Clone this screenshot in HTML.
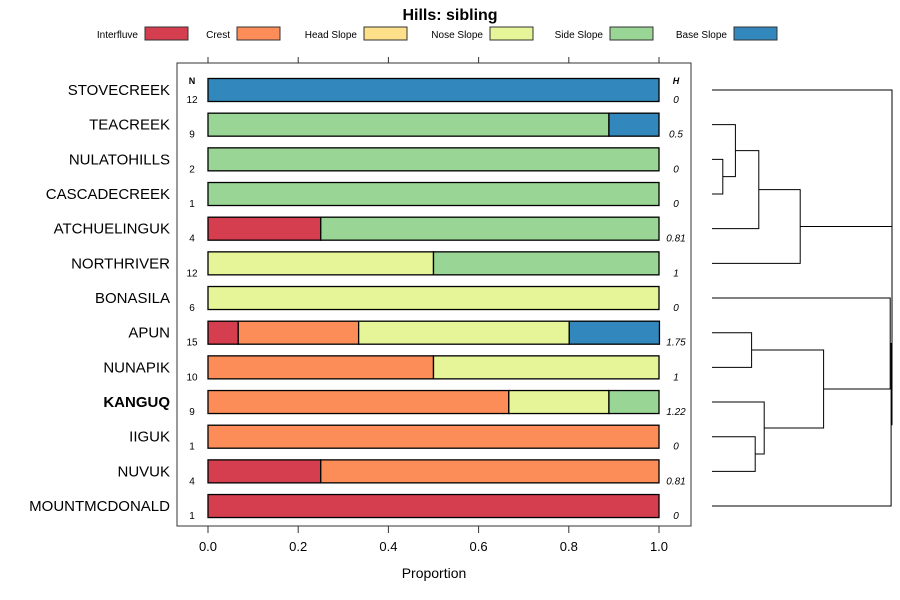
<!DOCTYPE html>
<html><head><meta charset="utf-8"><style>
html,body{margin:0;padding:0;background:#fff;}
svg{display:block;font-family:"Liberation Sans",sans-serif;}
</style></head><body>
<svg id="chart" width="900" height="600">
<text x="450" y="20" text-anchor="middle" font-size="16" font-weight="bold">Hills: sibling</text>
<g id="legend"></g>
<rect x="177" y="63" width="514" height="463" fill="none" stroke="#333" stroke-width="1"/>
<g id="axes"></g>
<g id="bars"></g>
<g id="dendro"></g>
<text x="434" y="578" text-anchor="middle" font-size="14">Proportion</text>
<text x="192" y="84" text-anchor="middle" font-size="9" font-weight="bold">N</text>
<text x="676" y="84" text-anchor="middle" font-size="9" font-weight="bold" font-style="italic">H</text>
</svg>
<script>
const classes=["Interfluve","Crest","Head Slope","Nose Slope","Side Slope","Base Slope"];
const colors=["#D53E4F","#FC8D59","#FEE08B","#E6F598","#99D594","#3288BD"];
const sites=["STOVECREEK","TEACREEK","NULATOHILLS","CASCADECREEK","ATCHUELINGUK","NORTHRIVER","BONASILA","APUN","NUNAPIK","KANGUQ","IIGUK","NUVUK","MOUNTMCDONALD"];
const nValues=[12,9,2,1,4,12,6,15,10,9,1,4,1];
const hValues=["0","0.5","0","0","0.81","1","0","1.75","1","1.22","0","0.81","0"];
const proportions=[
 [0,0,0,0,0,1],
 [0,0,0,0,0.889,0.111],
 [0,0,0,0,1,0],
 [0,0,0,0,1,0],
 [0.25,0,0,0,0.75,0],
 [0,0,0,0.5,0.5,0],
 [0,0,0,1,0,0],
 [0.067,0.267,0,0.467,0,0.2],
 [0,0.5,0,0.5,0,0],
 [0,0.667,0,0.222,0.111,0],
 [0,1,0,0,0,0],
 [0.25,0.75,0,0,0,0],
 [1,0,0,0,0,0]];
const xTicks=[0,0.2,0.4,0.6,0.8,1.0];
const xTickLabels=["0.0","0.2","0.4","0.6","0.8","1.0"];
const merges=[[-3,-4,0.06],[-2,1,0.13],[-5,2,0.26],[-6,3,0.49],[-11,-12,0.24],[-8,-9,0.22],[-10,5,0.29],[6,7,0.62],[-1,4,1.0],[-7,8,0.99],[10,-13,0.995],[9,11,1.0]];

const NS="http://www.w3.org/2000/svg";
function mk(tag,attrs,parent,txt){const e=document.createElementNS(NS,tag);for(const k in attrs)e.setAttribute(k,attrs[k]);if(txt!==undefined)e.textContent=txt;parent.appendChild(e);return e;}
const xS=v=>208+v*451;
const yS=i=>90+i*34.67;
const dX=h=>712+h*180;

const lg=document.getElementById('legend');
const legX=[145,237,364,490,610,734];
classes.forEach((c,i)=>{
 const t=mk('text',{x:legX[i]-7,y:38,'text-anchor':'end','font-size':'10'},lg,c);
 
 
 const r=mk('rect',{x:legX[i],y:27,width:43,height:13,fill:colors[i],stroke:'#333','stroke-width':1},lg);
 
 
});

const ax=document.getElementById('axes');
xTicks.forEach((v,i)=>{
 const l1=mk('line',{x1:xS(v),x2:xS(v),y1:57,y2:63,stroke:'#333'},ax);
 
 
 const l2=mk('line',{x1:xS(v),x2:xS(v),y1:526,y2:533,stroke:'#333'},ax);
 
 
 const t=mk('text',{x:xS(v),y:551,'text-anchor':'middle','font-size':'13'},ax,xTickLabels[i]);
 
 
});

const bg=document.getElementById('bars');
sites.forEach((s,i)=>{
 const y=yS(i);
 const lab=mk('text',{x:170,y:y+5,'text-anchor':'end','font-size':'15','font-weight':s==='KANGUQ'?'bold':'normal'},bg,s);
 
 
 let acc=0;
 proportions[i].forEach((p,k)=>{
  if(p<=0)return;
  const r=mk('rect',{x:xS(acc),y:y-11.5,width:xS(acc+p)-xS(acc),height:23,fill:colors[k],stroke:'#000','stroke-width':1.3},bg);
  
  
  acc+=p;
 });
 const n=mk('text',{x:192,y:y+13,'text-anchor':'middle','font-size':'10'},bg,nValues[i]);
 
 
 const h=mk('text',{x:676,y:y+13,'text-anchor':'middle','font-size':'10','font-style':'italic'},bg,hValues[i]);
 
 
});

const dg=document.getElementById('dendro');
const nodes=[];
function pos(ref){ if(ref<0){return {x:dX(0),y:yS(-ref-1)};} return nodes[ref-1]; }
merges.forEach(m=>{
 const a=pos(m[0]),b=pos(m[1]),hx=dX(m[2]);
 const p=mk('path',{d:`M${a.x},${a.y}H${hx}V${b.y}H${b.x}`,fill:'none',stroke:'#000','stroke-width':1},dg);
 
 
 nodes.push({x:hx,y:(a.y+b.y)/2});
});
</script>
</body></html>
